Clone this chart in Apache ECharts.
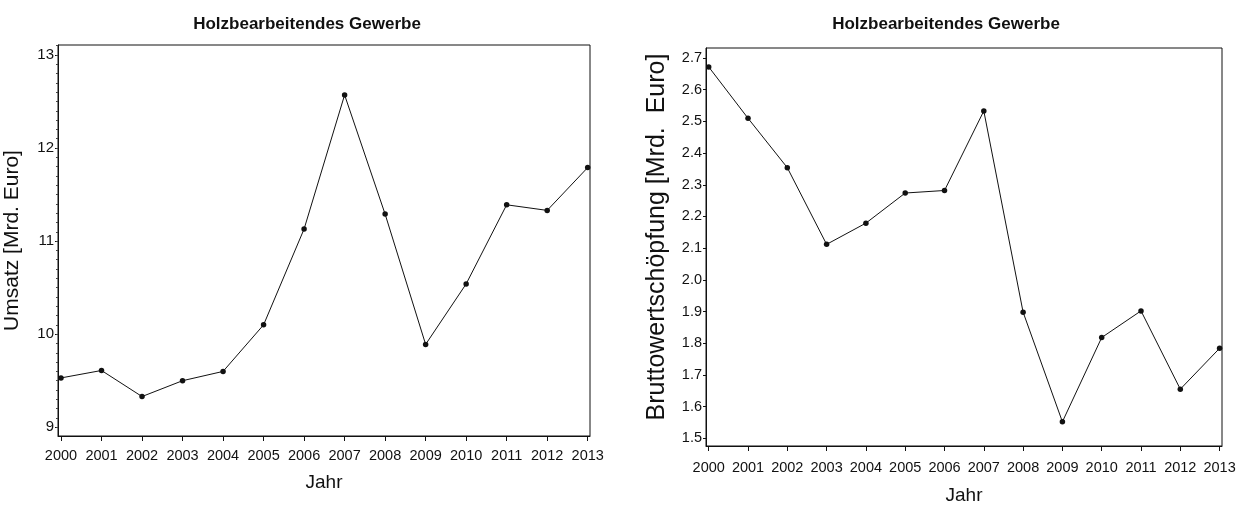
<!DOCTYPE html>
<html>
<head>
<meta charset="utf-8">
<script src="https://cdn.jsdelivr.net/npm/echarts@6/dist/echarts.min.js"></script>
<style>html,body{margin:0;padding:0;background:#fff;}#c{width:1242px;height:515px;}</style>
</head>
<body>
<div id="c"></div>
<script>
var years = [2000,2001,2002,2003,2004,2005,2006,2007,2008,2009,2010,2011,2012,2013];
var umsatz = [9.53,9.61,9.33,9.50,9.60,10.10,11.13,12.57,11.29,9.89,10.54,11.39,11.33,11.79];
var wertschoepfung = [2.672,2.510,2.354,2.112,2.179,2.274,2.282,2.533,1.898,1.552,1.818,1.902,1.655,1.784];
var leftTicks = [9,10,11,12,13];
var rightTicks = [1.5,1.6,1.7,1.8,1.9,2.0,2.1,2.2,2.3,2.4,2.5,2.6,2.7];
var titleText = 'Holzbearbeitendes Gewerbe';
var xName = 'Jahr';
var leftYName = 'Umsatz [Mrd. Euro]';
var rightYName = 'Bruttowertschöpfung [Mrd.  Euro]';

var font = "'Liberation Sans',Arial,sans-serif";
var ink = '#111';

var leftMinor = [];
for (var i = 89; i <= 131; i++) leftMinor.push(i / 10);

function pairs(vals){ return years.map(function(y,i){ return [y, vals[i]]; }); }

function xAxis(grid, min, max, margin, gap){
  return {
    type:'value', gridIndex:grid, min:min, max:max,
    name:xName, nameLocation:'middle', nameGap:gap,
    nameTextStyle:{fontFamily:font, fontSize:19, color:ink},
    axisLine:{show:true, lineStyle:{color:ink, width:1}},
    axisTick:{show:true, length:5, customValues:years, lineStyle:{color:ink}},
    axisLabel:{customValues:years, margin:margin, fontFamily:font, fontSize:14.5, color:ink,
      formatter:function(v){ return String(Math.round(v)); }},
    splitLine:{show:false}
  };
}

var chart = echarts.init(document.getElementById('c'), null, {renderer:'canvas'});
chart.setOption({
  animation:false,
  backgroundColor:'#fff',
  title:[
    {text:titleText, left:302, top:11, textAlign:'center',
     textStyle:{fontFamily:font, fontSize:17, fontWeight:'bold', color:ink}},
    {text:titleText, left:941, top:11, textAlign:'center',
     textStyle:{fontFamily:font, fontSize:17, fontWeight:'bold', color:ink}}
  ],
  grid:[
    {left:58, top:45, width:532, height:391, show:true, borderColor:ink, borderWidth:1, backgroundColor:'transparent'},
    {left:706, top:48, width:516, height:398, show:true, borderColor:ink, borderWidth:1, backgroundColor:'transparent'}
  ],
  xAxis:[
    xAxis(0, 1999.926, 2013.057, 12, 37),
    xAxis(1, 1999.931, 2013.061, 14, 40)
  ],
  yAxis:[
    {type:'value', gridIndex:0, min:8.906, max:13.107,
     name:leftYName, nameLocation:'middle', nameGap:35,
     nameTextStyle:{fontFamily:font, fontSize:21, color:ink},
     axisLine:{show:true, lineStyle:{color:ink}},
     axisTick:{show:true, length:3, customValues:leftTicks, lineStyle:{color:ink}},
     axisLabel:{customValues:leftTicks, margin:4, fontFamily:font, fontSize:15, color:ink},
     splitLine:{show:false}},
    {type:'value', gridIndex:0, min:8.906, max:13.107, position:'left',
     axisLine:{show:false},
     axisTick:{show:true, length:2, customValues:leftMinor, lineStyle:{color:'#444'}},
     axisLabel:{show:false}, splitLine:{show:false}},
    {type:'value', gridIndex:1, min:1.4756, max:2.7317,
     name:rightYName, nameLocation:'middle', nameGap:36,
     nameTextStyle:{fontFamily:font, fontSize:25, color:ink, padding:[0,0,0,20]},
     axisLine:{show:true, lineStyle:{color:ink}},
     axisTick:{show:true, length:3, customValues:rightTicks, lineStyle:{color:ink}},
     axisLabel:{customValues:rightTicks, margin:4, fontFamily:font, fontSize:14.5, color:ink,
       formatter:function(v){ return v.toFixed(1); }},
     splitLine:{show:false}}
  ],
  series:[
    {type:'line', xAxisIndex:0, yAxisIndex:0, data:pairs(umsatz),
     symbol:'circle', symbolSize:5.5, itemStyle:{color:ink}, lineStyle:{color:ink, width:1}},
    {type:'line', xAxisIndex:1, yAxisIndex:2, data:pairs(wertschoepfung),
     symbol:'circle', symbolSize:5.5, itemStyle:{color:ink}, lineStyle:{color:ink, width:1}}
  ]
});
</script>
</body>
</html>
